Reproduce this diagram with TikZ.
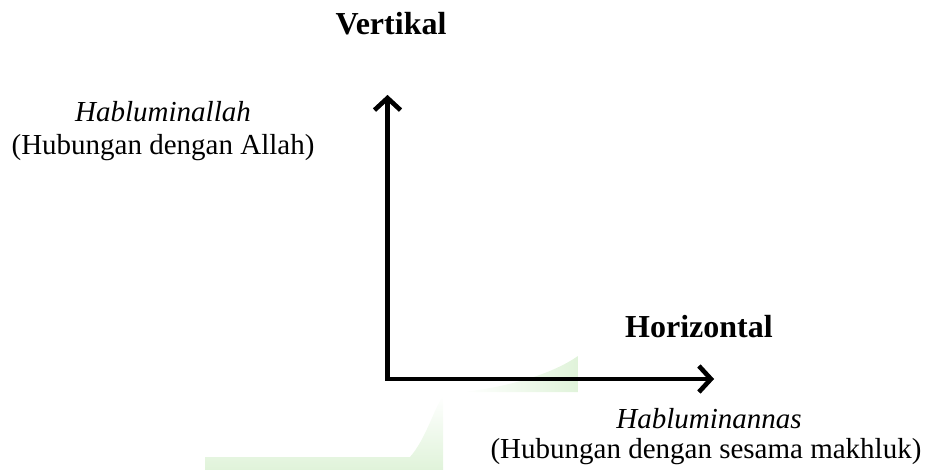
\documentclass[tikz,border=0pt]{standalone}
\usepackage{fontspec}
\setmainfont{Liberation Serif}
\usetikzlibrary{arrows.meta}
\definecolor{wmgreen}{RGB}{224,243,218}
\definecolor{shadowgray}{RGB}{140,140,140}
\begin{document}
\begin{tikzpicture}[x=1pt,y=1pt,
  lbl/.style={inner sep=0pt,anchor=base,font=\fontsize{29}{33}\selectfont},
  head/.style={inner sep=0pt,anchor=base,font=\fontsize{32}{36}\selectfont\bfseries},
  axis/.style={line width=4.5pt,line join=miter,
    arrows={Straight Barb[length=12pt,width=26pt,line width=4.5pt]-Straight Barb[length=12pt,width=26pt,line width=4.5pt]}}]
\useasboundingbox (0,0) rectangle (928,-470);
% faint watermark
\shade[left color=white,right color=wmgreen] (463,-392) .. controls (515,-386) and (555,-372) .. (578,-356) -- (578,-392) -- cycle;
\shade[top color=white,bottom color=wmgreen] (205,-470) -- (205,-457) -- (410,-457) .. controls (425,-440) and (433,-412) .. (443,-395) -- (443,-470) -- cycle;
% axes
\coordinate (O) at (387.5,-379);
\coordinate (vtip) at (387.5,-95);
\coordinate (htip) at (714,-379);
\draw[axis,shadowgray,shift={(1.5pt,-2.5pt)}] (vtip) -- (O) -- (htip);
\draw[axis] (vtip) -- (O) -- (htip);
% labels
\node[head] (vert) at (391,-35) {Vertikal};
\node[lbl] (hal) at (163,-122) {\itshape Habluminallah};
\node[lbl] (hald) at (163,-155) {(Hubungan dengan Allah)};
\node[head] (hor) at (699,-337) {Horizontal};
\node[lbl] (han) at (709,-428) {\itshape Habluminannas};
\node[lbl] (hand) at (706,-458) {(Hubungan dengan sesama makhluk)};
\end{tikzpicture}
\end{document}
